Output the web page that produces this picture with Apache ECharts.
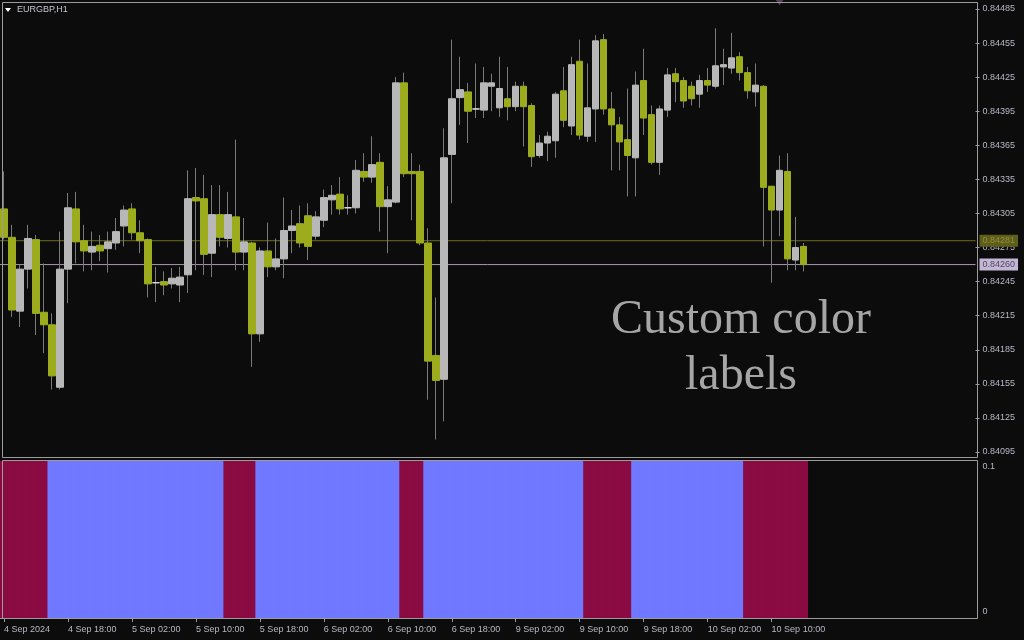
<!DOCTYPE html>
<html><head><meta charset="utf-8">
<script src="https://cdn.jsdelivr.net/npm/echarts@6/dist/echarts.min.js"></script>
<style>html,body{margin:0;padding:0;background:#0c0c0c}#c{width:1024px;height:640px}</style>
</head><body><div id="c"></div><script>
// ---- data (EURGBP H1, from 4 Sep 2024 10:00) ----
const openP = [0.84309,0.84284,0.84219,0.84256,0.84282,0.84218,0.84207,0.84152,0.84256,0.84309,
0.84281,0.84271,0.84277,0.84274,0.84279,0.84294,0.84309,0.84288,0.84282,0.84244,
0.84245,0.84243,0.84242,0.84251,0.84319,0.84318,0.84270,0.84304,0.84283,0.84302,
0.84271,0.84279,0.84199,0.84272,0.84258,0.84265,0.84290,0.84296,0.84303,0.84285,
0.84299,0.84317,0.84322,0.84310,0.84310,0.84342,0.84337,0.84350,0.84311,0.84315,
0.84420,0.84342,0.84342,0.84279,0.84180,0.84159,0.84357,0.84407,0.84412,0.84397,
0.84396,0.84417,0.84398,0.84406,0.84399,0.84417,0.84400,0.84356,0.84367,0.84369,
0.84413,0.84382,0.84439,0.84373,0.84397,0.84458,0.84397,0.84383,0.84370,0.84354,
0.84422,0.84392,0.84350,0.84396,0.84428,0.84422,0.84417,0.84410,0.84422,0.84417,
0.84434,0.84433,0.84443,0.84429,0.84412,0.84417,0.84329,0.84308,0.84342,0.84264,
0.84276];
const closeP = [0.84284,0.84220,0.84256,0.84283,0.84217,0.84207,0.84162,0.84256,0.84310,0.84280,
0.84272,0.84276,0.84272,0.84280,0.84289,0.84308,0.84288,0.84281,0.84243,0.84244,
0.84242,0.84248,0.84249,0.84318,0.84316,0.84269,0.84304,0.84284,0.84304,0.84271,
0.84280,0.84199,0.84272,0.84258,0.84265,0.84290,0.84294,0.84279,0.84276,0.84302,
0.84319,0.84321,0.84309,0.84310,0.84343,0.84337,0.84348,0.84311,0.84317,0.84420,
0.84340,0.84340,0.84279,0.84175,0.84158,0.84354,0.84406,0.84414,0.84395,0.84397,
0.84420,0.84420,0.84415,0.84399,0.84417,0.84399,0.84355,0.84367,0.84373,0.84410,
0.84387,0.84436,0.84374,0.84398,0.84457,0.84397,0.84383,0.84368,0.84356,0.84418,
0.84389,0.84350,0.84397,0.84427,0.84421,0.84404,0.84406,0.84422,0.84418,0.84435,
0.84436,0.84442,0.84429,0.84413,0.84418,0.84328,0.84308,0.84343,0.84265,0.84275,
0.84260];
const highP = [0.84342,0.84295,0.84260,0.84295,0.84286,0.84261,0.84217,0.84289,0.84323,0.84324,
0.84295,0.84289,0.84286,0.84289,0.84301,0.84312,0.84314,0.84299,0.84283,0.84258,
0.84254,0.84257,0.84258,0.84343,0.84345,0.84339,0.84330,0.84330,0.84324,0.84370,
0.84301,0.84280,0.84275,0.84297,0.84283,0.84319,0.84308,0.84312,0.84314,0.84307,
0.84326,0.84330,0.84337,0.84321,0.84352,0.84358,0.84373,0.84358,0.84329,0.84425,
0.84429,0.84358,0.84348,0.84292,0.84231,0.84380,0.84458,0.84443,0.84420,0.84437,
0.84434,0.84428,0.84443,0.84434,0.84421,0.84421,0.84402,0.84374,0.84377,0.84412,
0.84434,0.84443,0.84458,0.84437,0.84462,0.84463,0.84412,0.84390,0.84415,0.84430,
0.84450,0.84400,0.84400,0.84433,0.84433,0.84425,0.84421,0.84427,0.84433,0.84468,
0.84450,0.84464,0.84447,0.84434,0.84437,0.84418,0.84329,0.84356,0.84358,0.84302,
0.84279];
const lowP = [0.84282,0.84214,0.84205,0.84239,0.84198,0.84182,0.84150,0.84150,0.84226,0.84261,
0.84254,0.84255,0.84263,0.84253,0.84273,0.84276,0.84282,0.84270,0.84231,0.84227,
0.84233,0.84239,0.84227,0.84235,0.84255,0.84251,0.84249,0.84276,0.84275,0.84255,
0.84255,0.84170,0.84192,0.84249,0.84255,0.84248,0.84270,0.84275,0.84264,0.84282,
0.84293,0.84304,0.84304,0.84304,0.84305,0.84333,0.84332,0.84289,0.84270,0.84314,
0.84337,0.84299,0.84277,0.84141,0.84106,0.84122,0.84314,0.84383,0.84367,0.84389,
0.84389,0.84395,0.84390,0.84387,0.84395,0.84364,0.84346,0.84354,0.84351,0.84354,
0.84381,0.84374,0.84370,0.84368,0.84368,0.84392,0.84343,0.84343,0.84320,0.84320,
0.84374,0.84348,0.84339,0.84390,0.84403,0.84398,0.84400,0.84398,0.84412,0.84415,
0.84418,0.84428,0.84422,0.84406,0.84399,0.84276,0.84244,0.84285,0.84255,0.84255,
0.84254];
// lower indicator: value and colour index per bar (0 = crimson, 1 = blue)
const histValues = [0.1,0.1,0.1,0.1,0.1,0.1,0.1,0.1,0.1,0.1,0.1,0.1,0.1,0.1,0.1,0.1,0.1,0.1,0.1,0.1,
0.1,0.1,0.1,0.1,0.1,0.1,0.1,0.1,0.1,0.1,0.1,0.1,0.1,0.1,0.1,0.1,0.1,0.1,0.1,0.1,
0.1,0.1,0.1,0.1,0.1,0.1,0.1,0.1,0.1,0.1,0.1,0.1,0.1,0.1,0.1,0.1,0.1,0.1,0.1,0.1,
0.1,0.1,0.1,0.1,0.1,0.1,0.1,0.1,0.1,0.1,0.1,0.1,0.1,0.1,0.1,0.1,0.1,0.1,0.1,0.1,
0.1,0.1,0.1,0.1,0.1,0.1,0.1,0.1,0.1,0.1,0.1,0.1,0.1,0.1,0.1,0.1,0.1,0.1,0.1,0.1,0.1];
const histColorIdx = [0,0,0,0,0,0,
1,1,1,1,1,1,1,1,1,1,1,1,1,1,1,1,1,1,1,1,1,1,
0,0,0,0,
1,1,1,1,1,1,1,1,1,1,1,1,1,1,1,1,1,1,
0,0,0,
1,1,1,1,1,1,1,1,1,1,1,1,1,1,1,1,1,1,1,1,
0,0,0,0,0,0,
1,1,1,1,1,1,1,1,1,1,1,1,1,1,
0,0,0,0,0,0,0,0];
const histPalette = ['#8a0a42','#7078ff'];
const timeTickLabels = ['4 Sep 2024','4 Sep 18:00','5 Sep 02:00','5 Sep 10:00','5 Sep 18:00','6 Sep 02:00',
'6 Sep 10:00','6 Sep 18:00','9 Sep 02:00','9 Sep 10:00','9 Sep 18:00','10 Sep 02:00','10 Sep 10:00'];
const askLine = 0.84281;
const bidLine = 0.84260;
const alertBarIndex = 97;
const alertLevel = 0.84491;
const symbolName = 'EURGBP,H1';
const noteLines = ['Custom color', 'labels'];

// ---- build ----
const SLOTS = 122; // visible bar slots incl. empty right-hand space
const cats = [];
for (let i = 0; i < SLOTS; i++) cats.push(String(i));
const wickData = [], bodyData = [], histData = [];
for (let i = 0; i < openP.length; i++) {
  wickData.push([openP[i], closeP[i], lowP[i], highP[i]]);
  const lo = Math.min(openP[i], closeP[i]), hi = Math.max(openP[i], closeP[i]);
  const item = { value: [openP[i], closeP[i], lo, hi] };
  if (openP[i] === closeP[i]) item.itemStyle = { color: '#e6e6e6', borderColor: '#e6e6e6', color0: '#e6e6e6', borderColor0: '#e6e6e6' };
  bodyData.push(item);
  histData.push({ value: histValues[i], itemStyle: { color: histPalette[histColorIdx[i]] } });
}
const GREEN = '#9cac1c', GREY = '#b8b8b8', WICK = '#7a7a7a', FRAME = '#9c9c9c', TXT = '#b8b8c6';
const FONT = 'Liberation Sans';
const showTick = (i) => i % 8 === 0 && i / 8 < timeTickLabels.length;

function levelSeries(name, level, lineColor, bg, fg) {
  return { type: 'line', name: name, xAxisIndex: 2, yAxisIndex: 0, z: 1, symbol: 'none', silent: true,
    data: [[0, level], [1, level]], lineStyle: { color: lineColor, width: 1 },
    endLabel: { show: true, distance: 4, formatter: level.toFixed(5), backgroundColor: bg, color: fg,
      fontSize: 9, fontFamily: FONT, padding: [2, 3, 1, 3] } };
}

const chart = echarts.init(document.getElementById('c'), null, { renderer: 'canvas' });
chart.setOption({
  animation: false,
  backgroundColor: '#0c0c0c',
  grid: [
    { left: -0.5, width: 976, top: 9, height: 443 },
    { left: -0.5, width: 976, top: 461, height: 157 }
  ],
  xAxis: [
    { type: 'category', gridIndex: 0, data: cats, boundaryGap: true,
      axisLine: { show: false }, axisTick: { show: false }, axisLabel: { show: false }, splitLine: { show: false } },
    { type: 'category', gridIndex: 1, data: cats, boundaryGap: true,
      axisLine: { show: true, onZero: false, lineStyle: { color: FRAME, width: 1 } },
      axisTick: { show: true, alignWithLabel: true, interval: showTick, length: 4, lineStyle: { color: FRAME } },
      axisLabel: { show: true, interval: showTick, formatter: (v, i) => timeTickLabels[i / 8] || '',
        align: 'left', color: TXT, fontSize: 9, fontFamily: FONT, margin: 7 },
      splitLine: { show: false } },
    { type: 'value', gridIndex: 0, min: 0, max: 1, show: false }
  ],
  yAxis: [
    { type: 'value', gridIndex: 0, position: 'right', min: 0.84095, max: 0.84485, interval: 0.0003,
      axisLine: { show: false, onZero: false }, splitLine: { show: false },
      axisTick: { show: true, length: 4, lineStyle: { color: FRAME } },
      axisLabel: { formatter: v => v.toFixed(5), color: TXT, fontSize: 9, fontFamily: FONT, margin: 7 } },
    { type: 'value', gridIndex: 1, position: 'right', min: 0, max: 0.1, interval: 0.1,
      axisLine: { show: false, onZero: false }, splitLine: { show: false }, axisTick: { show: false },
      axisLabel: { margin: 7, formatter: v => v === 0 ? '{b|0}' : '{a|0.1}',
        rich: { a: { color: TXT, fontSize: 9, fontFamily: FONT, padding: [12, 0, 0, 0] },
                b: { color: TXT, fontSize: 9, fontFamily: FONT, padding: [0, 0, 12, 0] } } } }
  ],
  series: [
    levelSeries('ask', askLine, '#6e6e22', '#5e5e1c', '#8e8e36'),
    levelSeries('bid', bidLine, '#a898b0', '#c6b6d6', '#4a4a62'),
    { type: 'candlestick', name: 'wick', xAxisIndex: 0, yAxisIndex: 0, data: wickData, barWidth: 1, z: 2,
      itemStyle: { color: WICK, color0: WICK, borderColor: WICK, borderColor0: WICK, borderWidth: 1 } },
    { type: 'candlestick', name: 'body', xAxisIndex: 0, yAxisIndex: 0, data: bodyData, barWidth: 7, z: 3,
      itemStyle: { color: GREY, color0: GREEN, borderColor: GREY, borderColor0: GREEN, borderWidth: 1 } },
    { type: 'scatter', name: 'alert', xAxisIndex: 0, yAxisIndex: 0, clip: false, silent: true, z: 4,
      data: [[String(alertBarIndex), alertLevel]], symbol: 'triangle', symbolRotate: 180, symbolSize: [9, 6],
      itemStyle: { color: '#6a4a70' } },
    { type: 'bar', name: 'hist', xAxisIndex: 1, yAxisIndex: 1, data: histData,
      barWidth: 9, barCategoryGap: '0%' }
  ],
  graphic: [
    { type: 'rect', z: 100, silent: true, shape: { x: 2.5, y: 2.5, width: 975, height: 455 },
      style: { fill: null, stroke: FRAME, lineWidth: 1 } },
    { type: 'rect', z: 100, silent: true, shape: { x: 2.5, y: 460.5, width: 975, height: 158 },
      style: { fill: null, stroke: FRAME, lineWidth: 1 } },
    { type: 'polygon', z: 100, silent: true, shape: { points: [[5, 8], [11, 8], [8, 12]] },
      style: { fill: '#ffffff' } },
    { type: 'text', z: 100, silent: true, style: { text: symbolName, x: 17, y: 10, fill: '#c4c4cc',
      font: '9px "' + FONT + '"', textVerticalAlign: 'middle' } },
    { type: 'text', z: 100, silent: true, style: { text: noteLines[0], x: 741, y: 320, fill: '#a6a6a6',
      font: '48px "Liberation Serif"', textAlign: 'center', textVerticalAlign: 'middle' } },
    { type: 'text', z: 100, silent: true, style: { text: noteLines[1], x: 741, y: 376, fill: '#a6a6a6',
      font: '48px "Liberation Serif"', textAlign: 'center', textVerticalAlign: 'middle' } }
  ]
});
</script></body></html>
